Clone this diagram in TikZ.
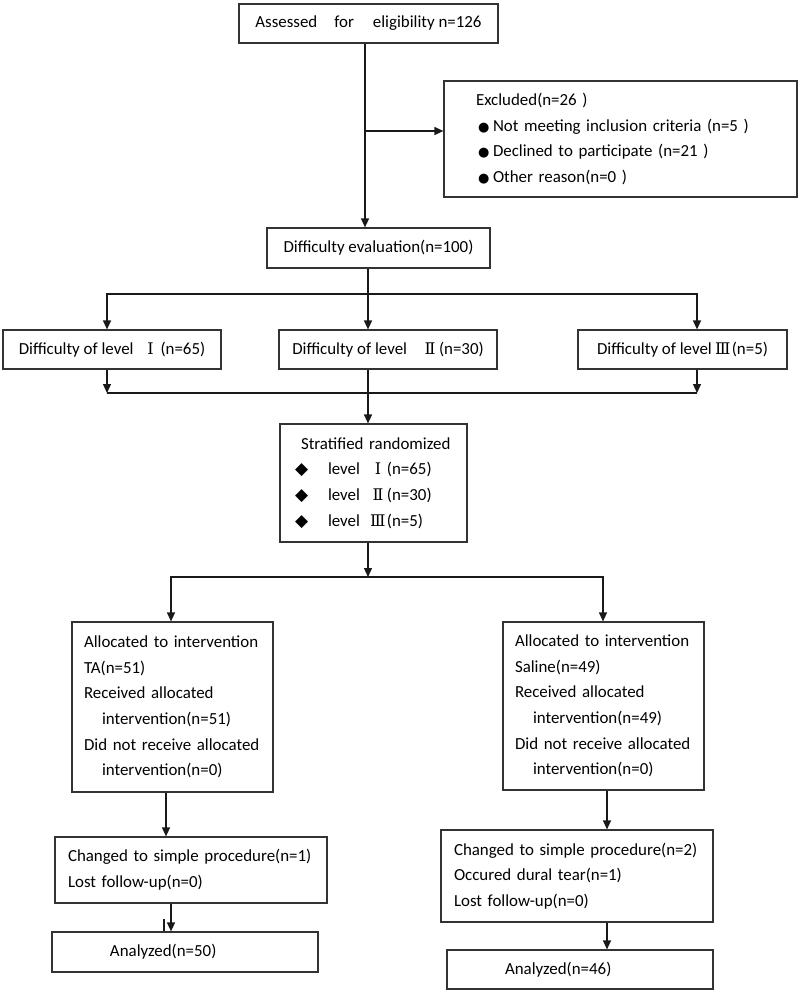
\documentclass[tikz,border=0pt]{standalone}
\usepackage{fontspec}
\setmainfont{Carlito}
\newfontfamily\rnfont{DejaVu Serif}
\newfontfamily\symfont{DejaVu Sans}
\usetikzlibrary{arrows.meta}
\newcommand\myfs{\fontsize{16.9pt}{25.7pt}\selectfont}
\newcommand\rn[3]{\hspace{#1}\makebox[#2]{\rnfont\fontsize{16pt}{16pt}\selectfont #3}}
\newcommand\bul{\makebox[15pt][l]{\symfont\fontsize{13pt}{13pt}\selectfont ●}}
\newcommand\dia{\makebox[33pt][l]{\symfont\fontsize{17pt}{17pt}\selectfont ◆}}
\tikzset{
  bx/.style={draw=black!80, line width=1.2pt, inner sep=0pt, font=\myfs},
  cbx/.style={bx, align=center},
  lbx/.style={bx, align=left},
  ln/.style={line width=1.3pt, draw=black!90},
  arr/.style={ln, -{Triangle[length=9pt,width=8pt]}},
}
\begin{document}
\begin{tikzpicture}[x=1pt,y=-1pt]
\useasboundingbox[fill=white] (0,0) rectangle (800,993);

\node[cbx, minimum width=259, minimum height=39] (assess) at (368.5,23.5)
  {Assessed\hspace{17pt}for\hspace{19pt}eligibility n=126};

\node[lbx, text width=353, minimum height=116] (excl) at (620.5,139)
  {\hspace*{32pt}Excluded(n=26 )\\
   \hspace*{34pt}\bul Not meeting inclusion criteria (n=5 )\\
   \hspace*{34pt}\bul Declined to participate (n=21 )\\
   \hspace*{34pt}\bul Other reason(n=0 )};

\node[cbx, minimum width=223, minimum height=40] (diffe) at (378.5,248)
  {Difficulty evaluation(n=100)};

\node[cbx, minimum width=218, minimum height=39] (lv1) at (112,349.5)
  {Difficulty of level\rn{7pt}{20pt}{Ⅰ}(n=65)};
\node[cbx, minimum width=218, minimum height=39] (lv2) at (388,349.5)
  {Difficulty of level\rn{14pt}{18pt}{Ⅱ}(n=30)};
\node[cbx, minimum width=209, minimum height=39] (lv3) at (682.5,349.5)
  {Difficulty of level\rn{2pt}{18pt}{Ⅲ}(n=5)};

\node[lbx, text width=187, minimum height=118] (strat) at (373.5,483)
  {\hspace*{21pt}Stratified randomized\\
   \hspace*{15pt}\dia level\rn{9pt}{18pt}{Ⅰ}(n=65)\\
   \hspace*{15pt}\dia level\rn{9pt}{18pt}{Ⅱ}(n=30)\\
   \hspace*{15pt}\dia level\rn{9pt}{18pt}{Ⅲ}(n=5)};

\node[lbx, text width=201, minimum height=170] (allocL) at (172.5,707)
  {\hspace*{12pt}Allocated to intervention\\
   \hspace*{12pt}TA(n=51)\\
   \hspace*{12pt}Received allocated\\
   \hspace*{30pt}intervention(n=51)\\
   \hspace*{12pt}Did not receive allocated\\
   \hspace*{30pt}intervention(n=0)};

\node[lbx, text width=201, minimum height=168] (allocR) at (603.5,706)
  {\hspace*{12pt}Allocated to intervention\\
   \hspace*{12pt}Saline(n=49)\\
   \hspace*{12pt}Received allocated\\
   \hspace*{30pt}intervention(n=49)\\
   \hspace*{12pt}Did not receive allocated\\
   \hspace*{30pt}intervention(n=0)};

\node[lbx, text width=272, minimum height=66] (chgL) at (191,870)
  {\hspace*{13pt}Changed to simple procedure(n=1)\\
   \hspace*{13pt}Lost follow-up(n=0)};

\node[lbx, text width=272, minimum height=92] (chgR) at (577,876)
  {\hspace*{13pt}Changed to simple procedure(n=2)\\
   \hspace*{13pt}Occured dural tear(n=1)\\
   \hspace*{13pt}Lost follow-up(n=0)};

\node[lbx, text width=266, minimum height=40] (anaL) at (185,952)
  {\hspace*{58pt}Analyzed(n=50)};

\node[lbx, text width=266, minimum height=39] (anaR) at (580,969.5)
  {\hspace*{58pt}Analyzed(n=46)};

% column coordinates
\coordinate (m) at (365,0);
\coordinate (mx) at (366,131);
\coordinate (c2) at (368,0);
\coordinate (x1) at (107,0);
\coordinate (x3) at (697,0);
\coordinate (j1) at (0,294);
\coordinate (j2) at (0,393);
\coordinate (j3) at (0,577);
\coordinate (xl) at (171,0);
\coordinate (xr) at (603,0);
\coordinate (xl2) at (166,0);
\coordinate (xr2) at (607,0);
\coordinate (xl3) at (171,0);
\coordinate (tk) at (164,919);

\draw[arr] (assess.south -| m) -- (diffe.north -| m);
\draw[arr] (mx) -- (mx -| excl.west);

\draw[arr] (diffe.south -| c2) -- (lv2.north -| c2);
\draw[arr] (x3 |- j1) -- (x1 |- j1) -- (lv1.north -| x1);
\draw[arr] (x1 |- j1) -- (x3 |- j1) -- (lv3.north -| x3);

\draw[arr] (lv1.south -| x1) -- (x1 |- j2);
\draw[arr] (lv3.south -| x3) -- (x3 |- j2);
\draw[ln] (x1 |- j2) -- (x3 |- j2);
\draw[arr] (lv2.south -| c2) -- (strat.north -| c2);

\draw[arr] (strat.south -| c2) -- (c2 |- j3);
\draw[arr] (xr |- j3) -- (xl |- j3) -- (allocL.north -| xl);
\draw[arr] (xl |- j3) -- (xr |- j3) -- (allocR.north -| xr);

\draw[arr] (allocL.south -| xl2) -- (chgL.north -| xl2);
\draw[arr] (allocR.south -| xr2) -- (chgR.north -| xr2);
\draw[arr] (chgL.south -| xl3) -- (anaL.north -| xl3);
\draw[ln] (tk) -- (tk |- anaL.north);
\draw[arr] (chgR.south -| xr2) -- (anaR.north -| xr2);
\end{tikzpicture}
\end{document}
